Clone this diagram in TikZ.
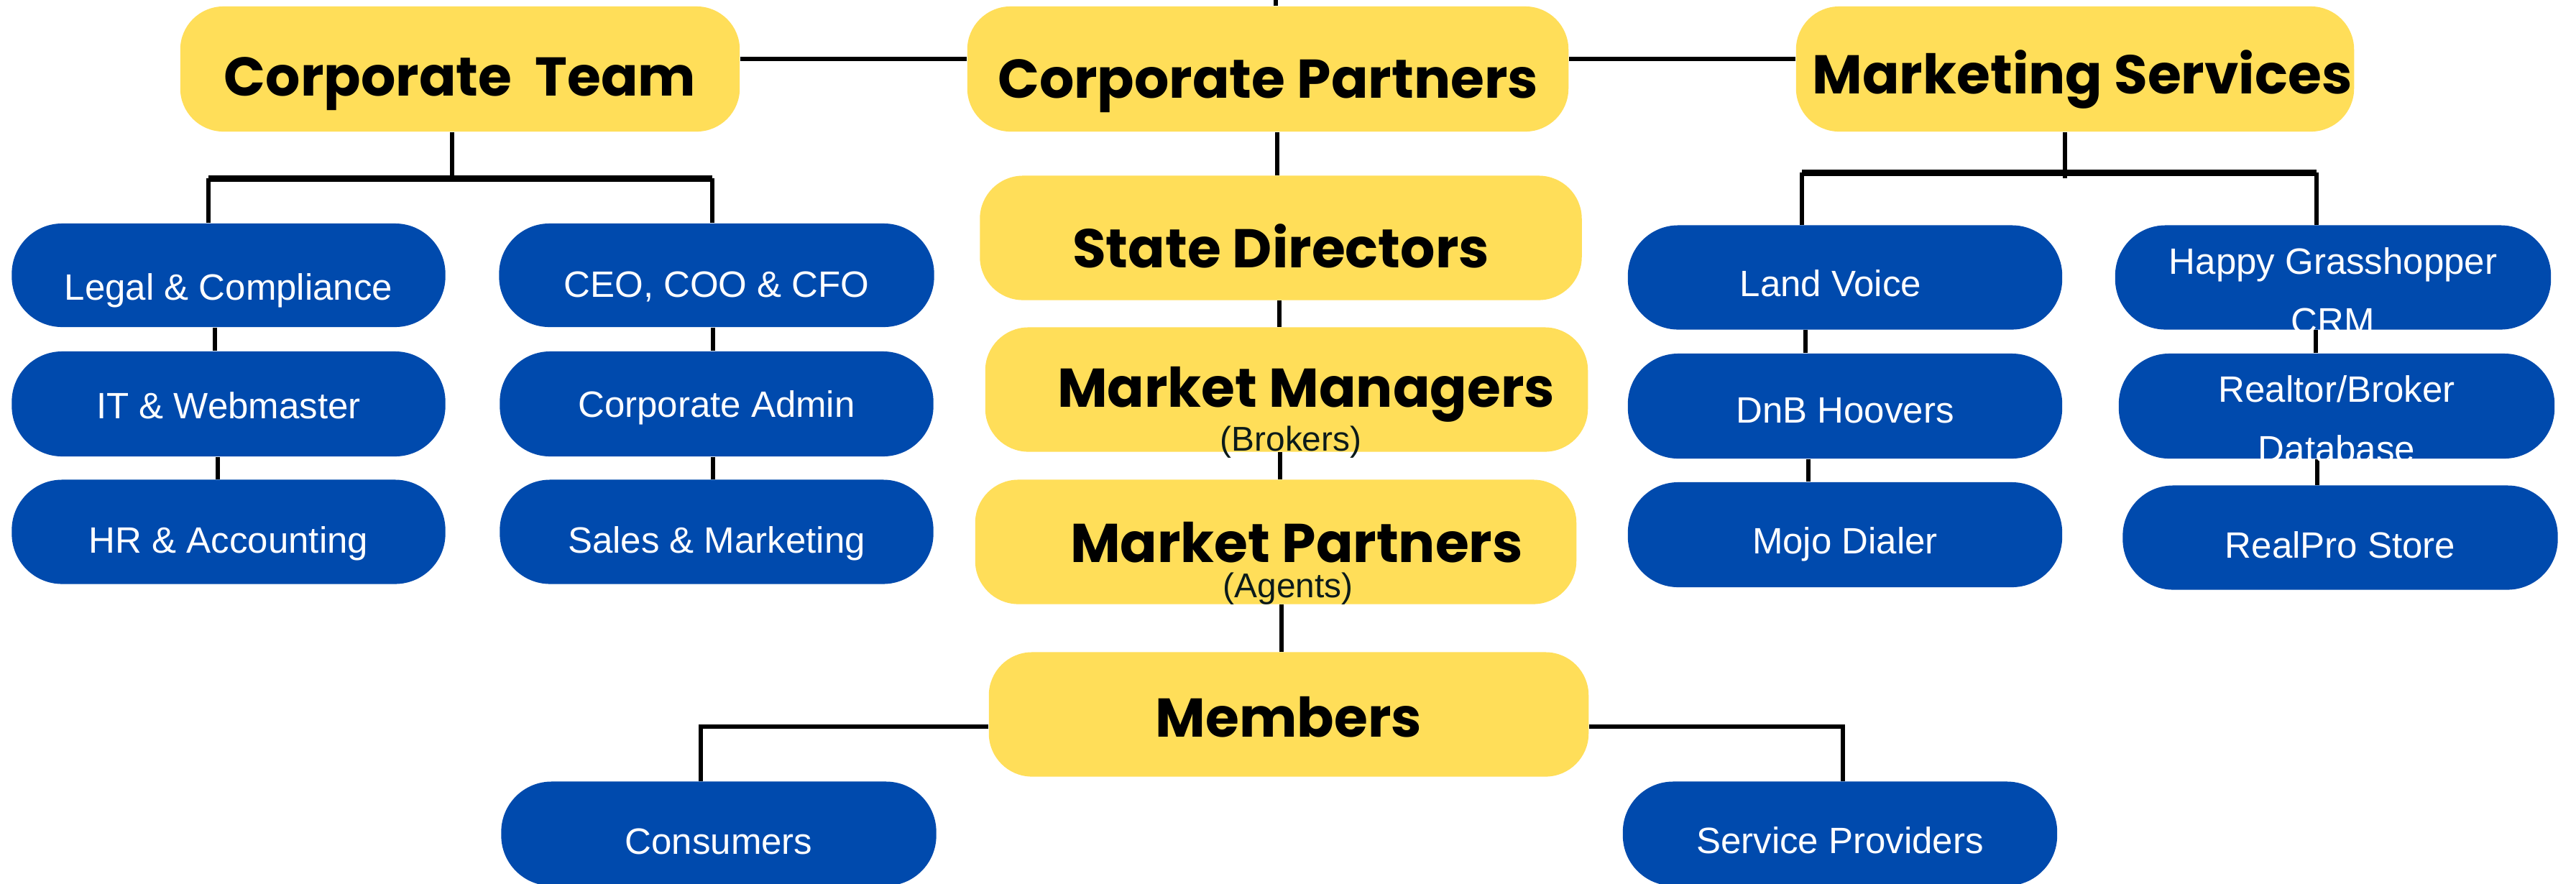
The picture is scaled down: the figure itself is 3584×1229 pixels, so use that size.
\documentclass[tikz,border=0pt]{standalone}
\usepackage{fontspec}
\setmainfont{Liberation Sans}
\newfontfamily\popfont{Poppins}
\definecolor{yel}{HTML}{FFDE59}
\definecolor{blu}{HTML}{004AAD}
\definecolor{subtxt}{HTML}{0B1A1A}
\newcommand\lowtxt[2]{\raisebox{-#1}{#2}}
\pgfdeclarelayer{bg}
\pgfsetlayers{bg,main}
\begin{document}
\begin{tikzpicture}[x=0.01cm,y=-0.01cm,
  ybox/.style={fill=yel, rounded corners=0.6cm, inner sep=0pt, minimum height=1.74cm,
    font={\popfont\bfseries\fontsize{21.6pt}{26pt}\selectfont}, text=black,
    text height=0.74cm, text depth=0cm},
  bbox/.style={fill=blu, rounded corners=0.7cm, inner sep=0pt, minimum width=6.04cm, minimum height=1.45cm,
    font={\fontsize{14.5pt}{23.6pt}\selectfont}, text=white,
    text height=0.54cm, text depth=0cm},
  ttl/.style={anchor=base, inner sep=0pt, font={\popfont\bfseries\fontsize{21.6pt}{26pt}\selectfont}, text=black},
  sub/.style={anchor=base, inner sep=0pt, font={\fontsize{13.6pt}{16pt}\selectfont}, text=subtxt},
  conn/.style={draw=black, line width=0.06cm},
  barline/.style={draw=black, line width=0.09cm}]
\useasboundingbox (0,0) rectangle (3584,1229);

% yellow boxes
\node[ybox, minimum width=7.78cm, text height=0.74cm] (ct) at (640,96) {Corporate\ \ Team};
\node[ybox, minimum width=8.36cm, text height=0.80cm] (cp) at (1764,96) {Corporate Partners};
\node[ybox, minimum width=7.76cm, text height=0.68cm] (ms) at (2887,96) {\hspace*{0.2cm}Marketing Services};
\node[ybox, minimum width=8.37cm, minimum height=1.73cm, text height=0.83cm] (sd) at (1782,331) {State Directors};
\node[ybox, minimum width=8.38cm, minimum height=1.73cm] (mm) at (1790,542) {};
\node[ybox, minimum width=8.36cm, minimum height=1.73cm] (mp) at (1775,754) {};
\node[ybox, minimum width=8.34cm, minimum height=1.73cm, text height=0.63cm] (mem) at (1793,994) {Members};

\node[ttl] (mmt) at (1817,566) {Market Managers};
\node[sub] (mms) at (1796,627) {(Brokers)};
\node[ttl] (mpt) at (1804,782) {Market Partners};
\node[sub] (mps) at (1792,831) {(Agents)};

% blue boxes, left
\node[bbox, minimum width=6.03cm, minimum height=1.44cm, text height=0.68cm] (legal) at (318,383) {Legal \& Compliance};
\node[bbox, minimum width=6.03cm, minimum height=1.46cm, text height=0.40cm] (it) at (318,562) {IT \& Webmaster};
\node[bbox, minimum width=6.03cm, text height=0.59cm] (hr) at (318,740) {HR \& Accounting};
\node[bbox, minimum width=6.05cm, minimum height=1.44cm, text height=0.60cm] (ceo) at (997,383) {CEO, COO \& CFO};
\node[bbox, minimum width=6.03cm, minimum height=1.46cm, text height=0.36cm] (admin) at (997,562) {Corporate Admin};
\node[bbox, minimum width=6.03cm, text height=0.59cm] (sales) at (997,740) {Sales \& Marketing};

% blue boxes, right
\node[bbox, text height=0.53cm] (lv) at (2567,386) {Land Voice\hspace*{0.4cm}};
\node[bbox, minimum height=1.46cm, text height=0.46cm] (dnb) at (2567,565) {DnB Hoovers};
\node[bbox, minimum height=1.46cm, text height=0.52cm] (mojo) at (2567,744) {Mojo Dialer};
\node[bbox, minimum width=6.06cm, align=center, text height=1.40cm, text depth=0cm] (hg) at (3246,386)
  {\lowtxt{0.08cm}{Happy Grasshopper}\\\lowtxt{0.08cm}{CRM}};
\node[bbox, minimum width=6.06cm, minimum height=1.46cm, align=center, text height=1.40cm, text depth=0cm] (rb) at (3251,565)
  {\lowtxt{0.07cm}{Realtor/Broker}\\\lowtxt{0.07cm}{Database}};
\node[bbox, minimum width=6.05cm, text height=0.57cm] (rp) at (3256,748) {RealPro Store};

% blue boxes, bottom
\node[bbox, minimum width=6.05cm, text height=0.57cm] (cons) at (1000,1160) {Consumers};
\node[bbox, text height=0.55cm] (sp) at (2560,1160) {Service Providers};

% helper coordinates
\coordinate (topend) at (1775,0);
\coordinate (hl) at (0,82);
\coordinate (ctx) at (629,248);
\coordinate (ctL) at (290,248);
\coordinate (ctR) at (991,248);
\coordinate (xl1) at (299,0);
\coordinate (xl2) at (303,0);
\coordinate (xr) at (992,0);
\coordinate (msx) at (2873,248);
\coordinate (msL) at (2507,240);
\coordinate (msR) at (3223,240);
\coordinate (xm1) at (2512,0);
\coordinate (xm2) at (2516,0);
\coordinate (xm3) at (3222,0);
\coordinate (xm4) at (3224,0);
\coordinate (xc1) at (1777,0);
\coordinate (xc2) at (1780,0);
\coordinate (xc3) at (1781,0);
\coordinate (xc4) at (1783,0);
\coordinate (hm) at (0,1011);
\coordinate (memL) at (975,1011);
\coordinate (memR) at (2564,1011);

\begin{pgfonlayer}{bg}
\fill[white] (0,0) rectangle (3584,1229);
\draw[conn] (topend) -- (cp.north -| topend);
\draw[conn] (ct.east |- hl) -- (cp.west |- hl);
\draw[conn] (cp.east |- hl) -- (ms.west |- hl);
% corporate team
\draw[conn] (ct.south -| ctx) -- (ctx);
\draw[barline] (ctL) -- (ctR);
\draw[conn] (ctL) -- (legal.north -| ctL);
\draw[conn] (ctR) -- (ceo.north -| ctR);
\draw[conn] (legal.south -| xl1) -- (it.north -| xl1);
\draw[conn] (it.south -| xl2) -- (hr.north -| xl2);
\draw[conn] (ceo.south -| xr) -- (admin.north -| xr);
\draw[conn] (admin.south -| xr) -- (sales.north -| xr);
% marketing services
\draw[conn] (ms.south -| msx) -- (msx);
\draw[barline] (msL) -- (msR);
\draw[conn] (msL) -- (lv.north -| msL);
\draw[conn] (msR) -- (hg.north -| msR);
\draw[conn] (lv.south -| xm1) -- (dnb.north -| xm1);
\draw[conn] (dnb.south -| xm2) -- (mojo.north -| xm2);
\draw[conn] (hg.south -| xm3) -- (rb.north -| xm3);
\draw[conn] (rb.south -| xm4) -- (rp.north -| xm4);
% centre column
\draw[conn] (cp.south -| xc1) -- (sd.north -| xc1);
\draw[conn] (sd.south -| xc2) -- (mm.north -| xc2);
\draw[conn] (mm.south -| xc3) -- (mp.north -| xc3);
\draw[conn] (mp.south -| xc4) -- (mem.north -| xc4);
% members
\draw[conn] (mem.west |- hm) -- (memL) -- (cons.north -| memL);
\draw[conn] (mem.east |- hm) -- (memR) -- (sp.north -| memR);
\end{pgfonlayer}
\end{tikzpicture}
\end{document}
